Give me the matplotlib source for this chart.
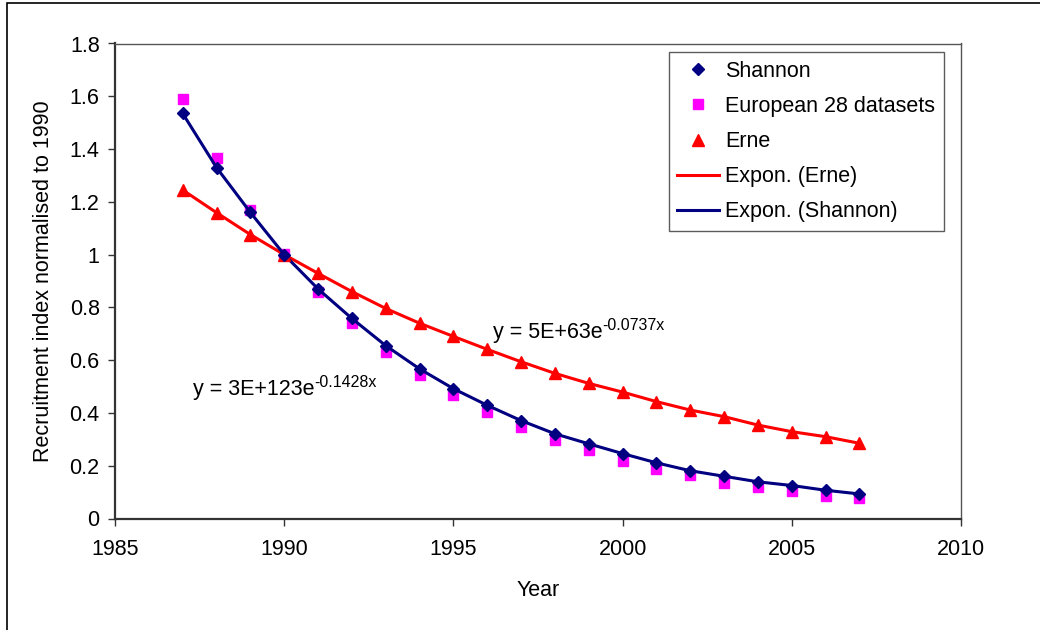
import matplotlib
matplotlib.use("Agg")
import matplotlib.pyplot as plt
from matplotlib.lines import Line2D
from matplotlib.patches import Rectangle

plt.rcParams['font.family'] = ['Liberation Sans', 'DejaVu Sans']

# data
years = list(range(1987, 2008))
shannon = [1.535, 1.33, 1.16, 1.0, 0.87, 0.758, 0.655, 0.567, 0.492, 0.429,
           0.371, 0.321, 0.283, 0.246, 0.211, 0.181, 0.160, 0.139, 0.125, 0.107, 0.093]
european = [1.589, 1.365, 1.169, 1.002, 0.86, 0.742, 0.632, 0.544, 0.468, 0.405,
            0.348, 0.297, 0.26, 0.219, 0.188, 0.165, 0.136, 0.118, 0.104, 0.087, 0.079]
erne = [1.245, 1.159, 1.076, 1.0, 0.929, 0.86, 0.796, 0.74, 0.69, 0.641,
        0.594, 0.55, 0.512, 0.479, 0.443, 0.411, 0.386, 0.354, 0.329, 0.31, 0.285]

navy = '#000080'
red = '#FF0000'
magenta = '#FF00FF'
fs = 15.5

fig = plt.figure(figsize=(10.4, 6.3), dpi=100)
fig.patches.append(Rectangle((7 / 1040, -0.1), 1.2, 1 - 3 / 630 + 0.1,
                             transform=fig.transFigure, fill=False,
                             edgecolor='black', linewidth=1.2))
ax = fig.add_axes([115 / 1040, 111.5 / 630, 846 / 1040, 475 / 630])

ax.plot(years, european, linestyle='none', marker='s', markersize=7,
        color=magenta, zorder=2)
ax.plot(years, erne, color=red, linewidth=2.2, zorder=3)
ax.plot(years, shannon, color=navy, linewidth=2.2, zorder=3)
ax.plot(years, erne, linestyle='none', marker='^', markersize=8.5,
        color=red, zorder=4)
ax.plot(years, shannon, linestyle='none', marker='D', markersize=6,
        color=navy, zorder=4)

# trendline equations, with the exponent as a separate small text
for x, y, base, expo in [(1996.17, 0.703, 'y = 5E+63e', '-0.0737x'),
                         (1987.3, 0.487, 'y = 3E+123e', '-0.1428x')]:
    t = ax.text(x, y, base, fontsize=fs, va='center', ha='left')
    ax.annotate(expo, xy=(1.0, 0.52), xycoords=t, fontsize=11.5,
                va='bottom', ha='left')

ax.set_xlim(1985, 2010)
ax.set_ylim(0, 1.8)
ax.set_xticks([1985, 1990, 1995, 2000, 2005, 2010])
ax.set_yticks([0, 0.2, 0.4, 0.6, 0.8, 1.0, 1.2, 1.4, 1.6, 1.8])
ax.set_yticklabels(['0', '0.2', '0.4', '0.6', '0.8', '1', '1.2', '1.4', '1.6', '1.8'])
ax.tick_params(direction='out', length=5, width=1, colors='#333333',
               labelcolor='black', labelsize=fs)
ax.tick_params(axis='x', pad=10)
ax.tick_params(axis='y', pad=6)

for side in ['left', 'bottom']:
    ax.spines[side].set_color('#333333')
    ax.spines[side].set_linewidth(1.6)
for side in ['top', 'right']:
    ax.spines[side].set_color('#555555')
    ax.spines[side].set_linewidth(1.0)

ax.set_xlabel('Year', fontsize=fs, labelpad=14)
ax.set_ylabel('Recruitment index normalised to 1990', fontsize=fs, labelpad=11)

handles = [
    Line2D([], [], linestyle='none', marker='D', markersize=6, color=navy),
    Line2D([], [], linestyle='none', marker='s', markersize=7, color=magenta),
    Line2D([], [], linestyle='none', marker='^', markersize=8.5, color=red),
    Line2D([], [], color=red, linewidth=2.2),
    Line2D([], [], color=navy, linewidth=2.2),
]
labels = ['Shannon', 'European 28 datasets', 'Erne', 'Expon. (Erne)', 'Expon. (Shannon)']
leg = ax.legend(handles, labels, loc='upper right', bbox_to_anchor=(0.98, 0.982),
                borderaxespad=0, fontsize=fs, frameon=True, fancybox=False,
                handlelength=1.95, handletextpad=0.28, labelspacing=0.66,
                borderpad=0.4)
leg.get_frame().set_edgecolor('#333333')
leg.get_frame().set_linewidth(1.0)

fig.savefig('out.png', dpi=100)
